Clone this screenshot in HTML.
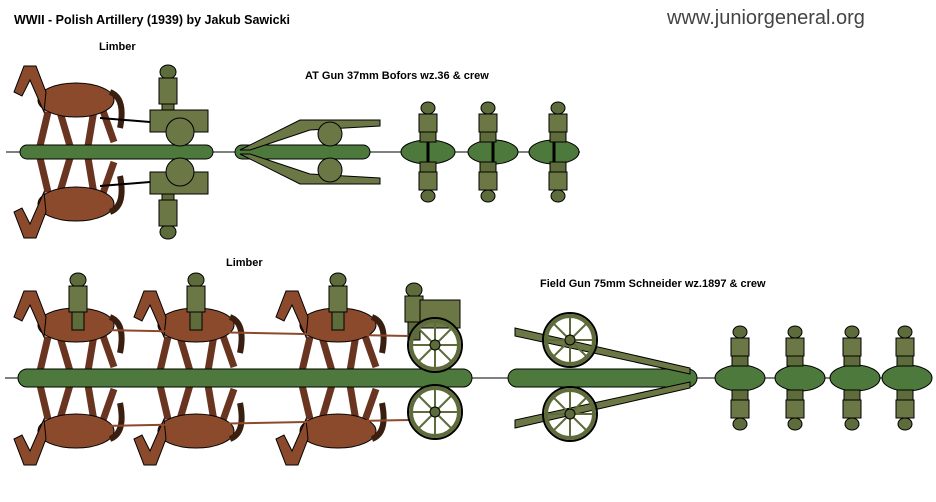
<!DOCTYPE html>
<html><head><meta charset="utf-8"><style>
html,body{margin:0;padding:0;background:#fff;}
svg{display:block}
text{font-family:"Liberation Sans",sans-serif;}
</style></head><body>
<svg width="936" height="502" viewBox="0 0 936 502" xmlns="http://www.w3.org/2000/svg">
<defs>
<g id="horse">
  <line x1="38" y1="50" x2="30" y2="84" stroke="#6a3520" stroke-width="7"/>
  <line x1="50" y1="50" x2="60" y2="84" stroke="#6a3520" stroke-width="7"/>
  <line x1="84" y1="48" x2="78" y2="84" stroke="#6a3520" stroke-width="7"/>
  <line x1="92" y1="46" x2="104" y2="80" stroke="#6a3520" stroke-width="7"/>
  <ellipse cx="66" cy="38" rx="38" ry="17" fill="#8b4a2b" stroke="#000"/>
  <polygon points="36,30 26,4 14,4 4,30 12,34 20,18 34,50" fill="#8b4a2b" stroke="#000"/>
  <path d="M100,30 q16,6 10,36" stroke="#3a1f10" stroke-width="6" fill="none"/>
</g>
<g id="rider">
  <ellipse cx="0" cy="0" rx="8" ry="7" fill="#5e6b3a" stroke="#000"/>
  <rect x="-9" y="6" width="18" height="26" fill="#6b7845" stroke="#000"/>
  <rect x="-6" y="32" width="12" height="18" fill="#5e6b3a" stroke="#000"/>
</g>
<g id="soldier">
  <ellipse cx="0" cy="-34" rx="7" ry="6" fill="#5e6b3a" stroke="#000"/>
  <rect x="-9" y="-28" width="18" height="18" fill="#6b7845" stroke="#000"/>
  <rect x="-8" y="-10" width="16" height="10" fill="#5e6b3a" stroke="#000"/>
</g>
<g id="wheel">
  <circle r="27" fill="none" stroke="#000" stroke-width="2"/>
  <circle r="24" fill="none" stroke="#5e6b3a" stroke-width="4"/>
  <line x1="-24" y1="0" x2="24" y2="0" stroke="#5e6b3a" stroke-width="2"/>
  <line x1="0" y1="-24" x2="0" y2="24" stroke="#5e6b3a" stroke-width="2"/>
  <line x1="-17" y1="-17" x2="17" y2="17" stroke="#5e6b3a" stroke-width="2"/>
  <line x1="-17" y1="17" x2="17" y2="-17" stroke="#5e6b3a" stroke-width="2"/>
  <circle r="5" fill="#5e6b3a" stroke="#000"/>
</g>
</defs>

<text x="14" y="24" font-size="12.5" font-weight="bold" fill="#000">WWII - Polish Artillery (1939) by Jakub Sawicki</text>
<text x="667" y="24" font-size="20" fill="#444">www.juniorgeneral.org</text>
<text x="99" y="50" font-size="11" font-weight="bold">Limber</text>
<text x="305" y="79" font-size="11" font-weight="bold">AT Gun 37mm Bofors wz.36 &amp; crew</text>
<text x="226" y="266" font-size="11" font-weight="bold">Limber</text>
<text x="540" y="287" font-size="11" font-weight="bold">Field Gun 75mm Schneider wz.1897 &amp; crew</text>

<!-- top row -->
<line x1="6" y1="152" x2="580" y2="152" stroke="#000"/>
<use href="#horse" x="10" y="62"/><use href="#horse" transform="translate(10,242) scale(1,-1)"/>
<rect x="20" y="145" width="193" height="14" rx="7" fill="#4d7a3c" stroke="#000"/>
<rect x="235" y="145" width="135" height="14" rx="7" fill="#4d7a3c" stroke="#000"/>
<use href="#rider" x="168" y="72"/>
<g transform="translate(168,232) scale(1,-1)"><use href="#rider"/></g>
<rect x="150" y="110" width="58" height="22" fill="#6b7845" stroke="#000"/>
<rect x="150" y="172" width="58" height="22" fill="#6b7845" stroke="#000"/>
<circle cx="180" cy="132" r="14" fill="#6b7845" stroke="#000"/>
<circle cx="180" cy="172" r="14" fill="#6b7845" stroke="#000"/>
<line x1="100" y1="118" x2="150" y2="122" stroke="#000" stroke-width="2"/>
<line x1="100" y1="186" x2="150" y2="182" stroke="#000" stroke-width="2"/>
<polygon points="240,150 300,120 380,120 380,126 310,130 250,150" fill="#6b7845" stroke="#000"/>
<polygon points="240,154 300,184 380,184 380,178 310,174 250,154" fill="#6b7845" stroke="#000"/>
<circle cx="330" cy="134" r="12" fill="#6b7845" stroke="#000"/>
<circle cx="330" cy="170" r="12" fill="#6b7845" stroke="#000"/>
<ellipse cx="428" cy="152" rx="27" ry="12" fill="#4d7a3c" stroke="#000"/>
<ellipse cx="493" cy="152" rx="25" ry="12" fill="#4d7a3c" stroke="#000"/>
<ellipse cx="554" cy="152" rx="25" ry="12" fill="#4d7a3c" stroke="#000"/>
<line x1="428" y1="138" x2="428" y2="166" stroke="#000" stroke-width="3"/>
<line x1="493" y1="138" x2="493" y2="166" stroke="#000" stroke-width="3"/>
<line x1="554" y1="138" x2="554" y2="166" stroke="#000" stroke-width="3"/>
<use href="#soldier" x="428" y="142"/><use href="#soldier" x="488" y="142"/><use href="#soldier" x="558" y="142"/>
<g transform="translate(0,304) scale(1,-1)"><use href="#soldier" x="428" y="142"/><use href="#soldier" x="488" y="142"/><use href="#soldier" x="558" y="142"/></g>

<!-- bottom row -->
<line x1="5" y1="378" x2="932" y2="378" stroke="#000"/>
<use href="#horse" x="10" y="287"/><use href="#horse" x="130" y="287"/><use href="#horse" x="272" y="287"/>
<g transform="translate(0,756) scale(1,-1)"><use href="#horse" x="10" y="287"/><use href="#horse" x="130" y="287"/><use href="#horse" x="272" y="287"/></g>
<rect x="18" y="369" width="454" height="18" rx="9" fill="#4d7a3c" stroke="#000"/>
<rect x="508" y="369" width="189" height="18" rx="9" fill="#4d7a3c" stroke="#000"/>
<use href="#rider" x="78" y="280"/><use href="#rider" x="196" y="280"/><use href="#rider" x="338" y="280"/><use href="#rider" x="414" y="290"/>
<line x1="100" y1="330" x2="410" y2="336" stroke="#8b4a2b" stroke-width="2"/>
<line x1="100" y1="426" x2="410" y2="420" stroke="#8b4a2b" stroke-width="2"/>
<rect x="420" y="300" width="40" height="28" fill="#6b7845" stroke="#000"/>
<use href="#wheel" x="435" y="345"/><use href="#wheel" x="435" y="412"/>
<polygon points="515,328 690,368 690,374 515,336" fill="#6b7845" stroke="#000"/>
<polygon points="515,428 690,388 690,382 515,420" fill="#6b7845" stroke="#000"/>
<use href="#wheel" x="570" y="340"/><use href="#wheel" x="570" y="414"/>
<ellipse cx="740" cy="378" rx="25" ry="13" fill="#4d7a3c" stroke="#000"/>
<ellipse cx="800" cy="378" rx="25" ry="13" fill="#4d7a3c" stroke="#000"/>
<ellipse cx="855" cy="378" rx="25" ry="13" fill="#4d7a3c" stroke="#000"/>
<ellipse cx="907" cy="378" rx="25" ry="13" fill="#4d7a3c" stroke="#000"/>
<use href="#soldier" x="740" y="366"/><use href="#soldier" x="795" y="366"/><use href="#soldier" x="852" y="366"/><use href="#soldier" x="905" y="366"/>
<g transform="translate(0,756) scale(1,-1)"><use href="#soldier" x="740" y="366"/><use href="#soldier" x="795" y="366"/><use href="#soldier" x="852" y="366"/><use href="#soldier" x="905" y="366"/></g>
</svg>
</body></html>
